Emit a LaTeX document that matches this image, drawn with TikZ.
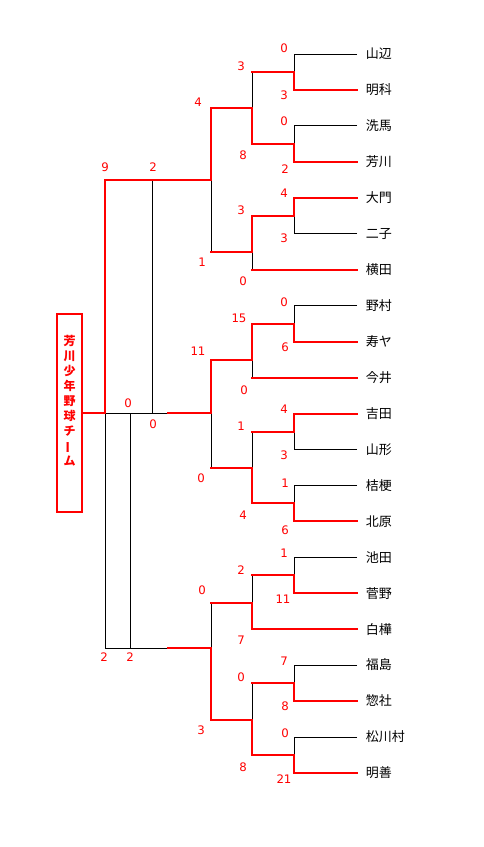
\documentclass[tikz,border=0pt]{standalone}
\usepackage{fontspec}
\newfontfamily\jpfont{Noto Sans CJK JP}
\newfontfamily\numfont{DejaVu Sans}
\usetikzlibrary{positioning}

\begin{document}
\begin{tikzpicture}[
  x=0.75pt, y=-0.75pt,
  lost/.style={draw=black, line width=0.75pt},
  win/.style={draw=red, line width=1.5pt, line cap=rect},
  team/.style={anchor=west, inner xsep=6.4pt, inner ysep=0pt, text height=8.4pt, text depth=1.2pt,
               font=\jpfont\fontsize{9.75pt}{11pt}\selectfont},
  score/.style={text=red, inner sep=0pt, font=\numfont\fontsize{8.8pt}{10pt}\selectfont},
  champ/.style={draw=red, line width=1.5pt, minimum width=18.75pt, minimum height=148.5pt, inner sep=0pt},
  champtext/.style={text=red, align=center, inner sep=0pt,
                    font=\jpfont\bfseries\fontsize{9pt}{11.25pt}\selectfont}
]
\useasboundingbox (0,0) rectangle (484,847);

\foreach \name [count=\i] in {山辺,明科,洗馬,芳川,大門,二子,横田,野村,寿ヤ,今井,吉田,山形,桔梗,北原,池田,菅野,白樺,福島,惣社,松川村,明善}
  \node[team] (t\i) at (357,{54+35.95*(\i-1)}) {\name};

\coordinate (m1) at (294,72);
\coordinate (m2) at (294,143.9);
\coordinate (m3) at (294,215.8);
\coordinate (m4) at (294,323.6);
\coordinate (m5) at (294,431.5);
\coordinate (m6) at (294,503.4);
\coordinate (m7) at (294,575.3);
\coordinate (m8) at (294,683.1);
\coordinate (m9) at (294,755);
\coordinate (q1) at (252,108);
\coordinate (q2) at (252,252);
\coordinate (q3) at (252,360);
\coordinate (q4) at (252,468);
\coordinate (q5) at (252,603);
\coordinate (q6) at (252,720);
\coordinate (r1) at (211,180);
\coordinate (r2) at (211,413);
\coordinate (r3) at (211,648);
\coordinate (f1) at (105,180);
\coordinate (f2) at (105,413);
\coordinate (f3) at (105,648);
\coordinate (g1) at (130,413);
\coordinate (g2) at (130,648);
\coordinate (k1) at (152,180);
\coordinate (k2) at (152,413);
\coordinate (e2) at (168,413);
\coordinate (e3) at (168,648);

\node[champ] (champ) at (69.5,413) {};
\node[champtext] (champname) at (69.5,401)
  {芳\\川\\少\\年\\野\\球\\チ\\\rotatebox[origin=c]{90}{ー}\\ム};

% losing lines
\draw[lost] (t1.west) -- (m1 |- t1.west) -- (m1);
\draw[lost] (t3.west) -- (m2 |- t3.west) -- (m2);
\draw[lost] (t6.west) -- (m3 |- t6.west) -- (m3);
\draw[lost] (q1 |- m1) -- (q1);
\draw[lost] (q2) -- (q2 |- t7.west);
\draw[lost] (r1) -- (r1 |- q2);
\draw[lost] (t8.west) -- (m4 |- t8.west) -- (m4);
\draw[lost] (q3) -- (q3 |- t10.west);
\draw[lost] (t12.west) -- (m5 |- t12.west) -- (m5);
\draw[lost] (t13.west) -- (m6 |- t13.west) -- (m6);
\draw[lost] (q4 |- m5) -- (q4);
\draw[lost] (r2) -- (r2 |- q4);
\draw[lost] (t15.west) -- (m7 |- t15.west) -- (m7);
\draw[lost] (q5 |- m7) -- (q5);
\draw[lost] (t18.west) -- (m8 |- t18.west) -- (m8);
\draw[lost] (t20.west) -- (m9 |- t20.west) -- (m9);
\draw[lost] (q6 |- m8) -- (q6);
\draw[lost] (r3 |- q5) -- (r3);
\draw[lost] (k1) -- (k2);
\draw[lost] (f2) -- (e2);
\draw[lost] (g1) -- (g2);
\draw[lost] (f2) -- (f3) -- (e3);

% winning lines
\draw[win] (t2.west) -- (m1 |- t2.west) -- (m1) -- (q1 |- m1);
\draw[win] (t4.west) -- (m2 |- t4.west) -- (m2) -- (q1 |- m2) -- (q1) -- (r1 |- q1) -- (r1) -- (f1) -- (f2) -- (champ.east);
\draw[win] (t5.west) -- (m3 |- t5.west) -- (m3) -- (q2 |- m3) -- (q2) -- (r1 |- q2);
\draw[win] (t7.west) -- (q2 |- t7.west);
\draw[win] (t9.west) -- (m4 |- t9.west) -- (m4) -- (q3 |- m4) -- (q3) -- (r2 |- q3) -- (r2) -- (e2);
\draw[win] (t10.west) -- (q3 |- t10.west);
\draw[win] (t11.west) -- (m5 |- t11.west) -- (m5) -- (q4 |- m5);
\draw[win] (t14.west) -- (m6 |- t14.west) -- (m6) -- (q4 |- m6) -- (q4) -- (r2 |- q4);
\draw[win] (t16.west) -- (m7 |- t16.west) -- (m7) -- (q5 |- m7);
\draw[win] (t17.west) -- (q5 |- t17.west) -- (q5) -- (r3 |- q5);
\draw[win] (t19.west) -- (m8 |- t19.west) -- (m8) -- (q6 |- m8);
\draw[win] (t21.west) -- (m9 |- t21.west) -- (m9) -- (q6 |- m9) -- (q6) -- (r3 |- q6) -- (r3) -- (e3);

\foreach \px/\py/\pts [count=\k] in {
  284/48/0, 284/95/3, 241/66/3, 198/102/4, 284/121/0, 243/155/8, 285/169/2,
  284/193/4, 241/210/3, 284/238/3, 202/262/1, 243/281/0,
  105/167/9, 153/167/2, 128/403/0, 153/424/0, 104/657/2, 130/657/2,
  284/302/0, 239/318/15, 285/347/6, 198/351/11, 244/390/0, 284/409/4,
  241/426/1, 284/455/3, 201/478/0, 285/483/1, 243/515/4, 285/530/6,
  284/553/1, 283/599/11, 241/570/2, 202/590/0, 241/640/7, 284/661/7,
  241/677/0, 285/706/8, 201/730/3, 285/733/0, 243/767/8, 284/779/21}
  \node[score] (sc\k) at (\px,\py) {\pts};
\end{tikzpicture}
\end{document}
